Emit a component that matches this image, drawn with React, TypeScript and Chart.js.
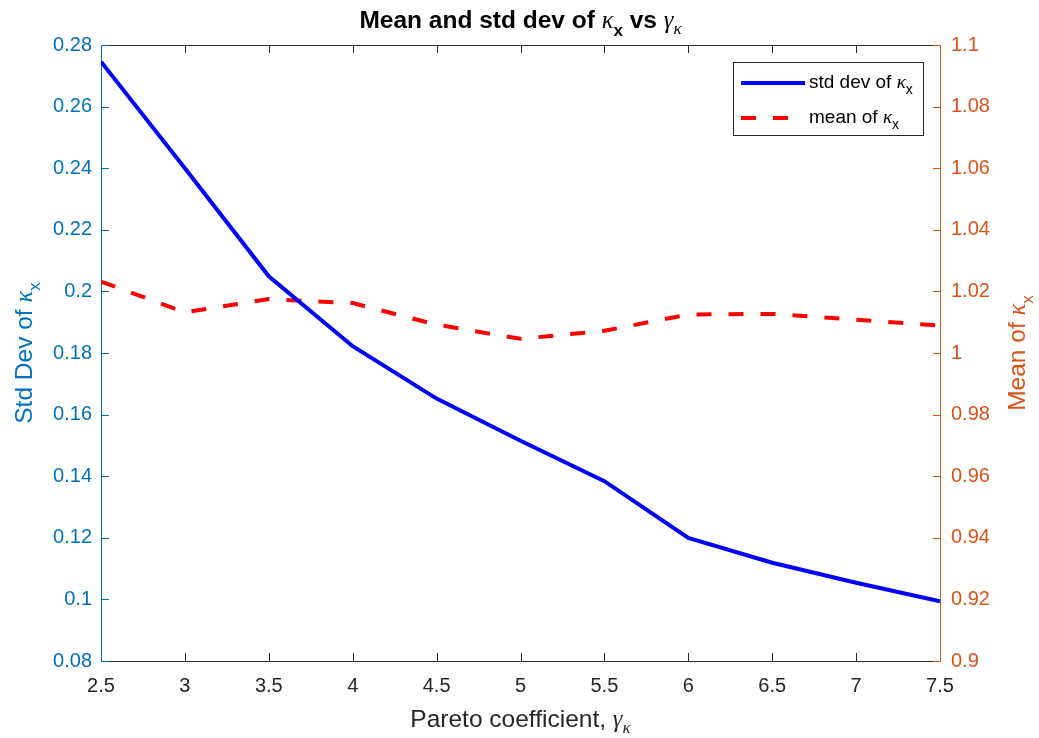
import React, { useEffect, useRef } from "react";
import { Chart, registerables } from "chart.js";

Chart.register(...registerables);

const gammaValues = [2.5, 3, 3.5, 4, 4.5, 5, 5.5, 6, 6.5, 7, 7.5];
const stdDevValues = [0.2746, 0.24, 0.2049, 0.1822, 0.1652, 0.1515, 0.1384, 0.12, 0.1119, 0.1054, 0.0994];
const meanValues = [1.0232, 1.0132, 1.0175, 1.0162, 1.0092, 1.0046, 1.0072, 1.0125, 1.0127, 1.0108, 1.0089];

const xTickValues = [2.5, 3, 3.5, 4, 4.5, 5, 5.5, 6, 6.5, 7, 7.5];
const xTickLabels = ["2.5", "3", "3.5", "4", "4.5", "5", "5.5", "6", "6.5", "7", "7.5"];
const leftTickValues = [0.08, 0.1, 0.12, 0.14, 0.16, 0.18, 0.2, 0.22, 0.24, 0.26, 0.28];
const leftTickLabels = ["0.08", "0.1", "0.12", "0.14", "0.16", "0.18", "0.2", "0.22", "0.24", "0.26", "0.28"];
const rightTickValues = [0.9, 0.92, 0.94, 0.96, 0.98, 1, 1.02, 1.04, 1.06, 1.08, 1.1];
const rightTickLabels = ["0.9", "0.92", "0.94", "0.96", "0.98", "1", "1.02", "1.04", "1.06", "1.08", "1.1"];

const LEFT_COLOR = "#0072BD";
const RIGHT_COLOR = "#D95319";
const AXIS_GRAY = "#262626";
const FONT = '"Liberation Sans", Arial, sans-serif';
const GREEK = '"Liberation Serif", serif';

type Seg = { text: string; font: string; color: string; dy?: number };

function drawRich(ctx: CanvasRenderingContext2D, segs: Seg[], x: number, y: number, rotation: number) {
  ctx.save();
  ctx.translate(x, y);
  ctx.rotate(rotation);
  ctx.textAlign = "left";
  ctx.textBaseline = "alphabetic";
  let total = 0;
  const widths: number[] = [];
  for (const s of segs) {
    ctx.font = s.font;
    const w = ctx.measureText(s.text).width;
    widths.push(w);
    total += w;
  }
  let cx = -total / 2;
  segs.forEach((s, i) => {
    ctx.font = s.font;
    ctx.fillStyle = s.color;
    ctx.fillText(s.text, cx, s.dy || 0);
    cx += widths[i];
  });
  ctx.restore();
}

function drawRichLeft(ctx: CanvasRenderingContext2D, segs: Seg[], x: number, y: number) {
  ctx.save();
  ctx.textAlign = "left";
  ctx.textBaseline = "alphabetic";
  let cx = x;
  for (const s of segs) {
    ctx.font = s.font;
    ctx.fillStyle = s.color;
    ctx.fillText(s.text, cx, y + (s.dy || 0));
    cx += ctx.measureText(s.text).width;
  }
  ctx.restore();
}

const framePlugin = {
  id: "matlabFrame",
  beforeDatasetsDraw(chart: any) {
    const ctx = chart.ctx as CanvasRenderingContext2D;
    const { left, right, top, bottom } = chart.chartArea;
    const xs = chart.scales.x;
    const yl = chart.scales.y;
    const yr = chart.scales.y1;
    const tl = 8;
    ctx.save();
    ctx.lineWidth = 1;
    ctx.strokeStyle = AXIS_GRAY;
    ctx.beginPath();
    ctx.moveTo(left, top + 0.5);
    ctx.lineTo(right, top + 0.5);
    ctx.moveTo(left, bottom + 0.5);
    ctx.lineTo(right, bottom + 0.5);
    for (const v of xTickValues) {
      const px = Math.round(xs.getPixelForValue(v)) + 0.5;
      ctx.moveTo(px, top);
      ctx.lineTo(px, top + tl);
      ctx.moveTo(px, bottom);
      ctx.lineTo(px, bottom - tl);
    }
    ctx.stroke();
    ctx.strokeStyle = LEFT_COLOR;
    ctx.beginPath();
    ctx.moveTo(left + 0.5, top);
    ctx.lineTo(left + 0.5, bottom + 1);
    for (const v of leftTickValues) {
      const py = Math.round(yl.getPixelForValue(v)) + 0.5;
      ctx.moveTo(left, py);
      ctx.lineTo(left + tl, py);
    }
    ctx.stroke();
    ctx.strokeStyle = RIGHT_COLOR;
    ctx.beginPath();
    ctx.moveTo(right + 0.5, top);
    ctx.lineTo(right + 0.5, bottom + 1);
    for (const v of rightTickValues) {
      const py = Math.round(yr.getPixelForValue(v)) + 0.5;
      ctx.moveTo(right + 1, py);
      ctx.lineTo(right - tl + 1, py);
    }
    ctx.stroke();
    ctx.restore();
  },
  afterDraw(chart: any) {
    const ctx = chart.ctx as CanvasRenderingContext2D;
    const { left, right, top, bottom } = chart.chartArea;
    const cx = (left + right) / 2;
    const cy = (top + bottom) / 2;

    drawRich(
      ctx,
      [
        { text: "Mean and std dev of ", font: `bold 24.5px ${FONT}`, color: "#000" },
        { text: "κ", font: `italic 24.5px ${GREEK}`, color: "#000" },
        { text: "x", font: `bold 17px ${FONT}`, color: "#000", dy: 8 },
        { text: " vs ", font: `bold 24.5px ${FONT}`, color: "#000" },
        { text: "γ", font: `italic 24.5px ${GREEK}`, color: "#000" },
        { text: "κ", font: `italic 17px ${GREEK}`, color: "#000", dy: 6 },
      ],
      cx,
      28,
      0
    );

    drawRich(
      ctx,
      [
        { text: "Pareto coefficient, ", font: `24.5px ${FONT}`, color: AXIS_GRAY },
        { text: "γ", font: `italic 24.5px ${GREEK}`, color: AXIS_GRAY },
        { text: "κ", font: `italic 17px ${GREEK}`, color: AXIS_GRAY, dy: 6 },
      ],
      cx,
      727,
      0
    );

    drawRich(
      ctx,
      [
        { text: "Std Dev of ", font: `24.5px ${FONT}`, color: LEFT_COLOR },
        { text: "κ", font: `italic 24.5px ${GREEK}`, color: LEFT_COLOR },
        { text: "x", font: `17px ${FONT}`, color: LEFT_COLOR, dy: 8 },
      ],
      32,
      cy,
      -Math.PI / 2
    );

    drawRich(
      ctx,
      [
        { text: "Mean of ", font: `24.5px ${FONT}`, color: RIGHT_COLOR },
        { text: "κ", font: `italic 24.5px ${GREEK}`, color: RIGHT_COLOR },
        { text: "x", font: `17px ${FONT}`, color: RIGHT_COLOR, dy: 8 },
      ],
      1025,
      cy,
      -Math.PI / 2
    );

    ctx.save();
    ctx.fillStyle = "#fff";
    ctx.fillRect(734, 63, 190, 73);
    ctx.strokeStyle = AXIS_GRAY;
    ctx.lineWidth = 1;
    ctx.strokeRect(733.5, 62.5, 190, 73);
    ctx.lineWidth = 4;
    ctx.strokeStyle = "#0000FF";
    ctx.beginPath();
    ctx.moveTo(741, 83);
    ctx.lineTo(805, 83);
    ctx.stroke();
    ctx.strokeStyle = "#FF0000";
    ctx.setLineDash([15, 17]);
    ctx.beginPath();
    ctx.moveTo(741, 118);
    ctx.lineTo(805, 118);
    ctx.stroke();
    ctx.setLineDash([]);
    ctx.restore();
    drawRichLeft(
      ctx,
      [
        { text: "std dev of ", font: `19px ${FONT}`, color: "#000" },
        { text: "κ", font: `italic 19px ${GREEK}`, color: "#000" },
        { text: "x", font: `14px ${FONT}`, color: "#000", dy: 6 },
      ],
      809,
      88
    );
    drawRichLeft(
      ctx,
      [
        { text: "mean of ", font: `19px ${FONT}`, color: "#000" },
        { text: "κ", font: `italic 19px ${GREEK}`, color: "#000" },
        { text: "x", font: `14px ${FONT}`, color: "#000", dy: 6 },
      ],
      809,
      123
    );
  },
};

export default function App() {
  const canvasRef = useRef<HTMLCanvasElement | null>(null);

  useEffect(() => {
    document.body.style.margin = "0";
    const canvas = canvasRef.current;
    if (!canvas) return;
    const chart = new Chart(canvas, {
      type: "line",
      data: {
        datasets: [
          {
            label: "std dev of κx",
            data: gammaValues.map((g, i) => ({ x: g, y: stdDevValues[i] })),
            yAxisID: "y",
            borderColor: "#0000FF",
            backgroundColor: "#0000FF",
            borderWidth: 4,
            pointRadius: 0,
            tension: 0,
          },
          {
            label: "mean of κx",
            data: gammaValues.map((g, i) => ({ x: g, y: meanValues[i] })),
            yAxisID: "y1",
            borderColor: "#FF0000",
            backgroundColor: "#FF0000",
            borderWidth: 4,
            borderDash: [15, 17],
            pointRadius: 0,
            tension: 0,
          },
        ],
      },
      options: {
        animation: false,
        responsive: false,
        devicePixelRatio: 1,
        layout: { padding: { top: 45, left: 0, right: 0, bottom: 0 } },
        plugins: {
          legend: { display: false },
          title: { display: false },
          tooltip: { enabled: false },
        },
        scales: {
          x: {
            type: "linear",
            min: 2.5,
            max: 7.5,
            grid: { display: false, drawTicks: false },
            border: { display: false },
            afterBuildTicks: (s: any) => {
              s.ticks = xTickValues.map((v) => ({ value: v }));
            },
            afterFit: (s: any) => {
              s.height = 77;
            },
            ticks: {
              color: AXIS_GRAY,
              font: { family: FONT, size: 20 },
              padding: 13,
              maxRotation: 0,
              autoSkip: false,
              callback: (_v: any, i: number) => xTickLabels[i],
            },
          },
          y: {
            type: "linear",
            position: "left",
            min: 0.08,
            max: 0.28,
            grid: { display: false, drawTicks: false },
            border: { display: false },
            afterBuildTicks: (s: any) => {
              s.ticks = leftTickValues.map((v) => ({ value: v }));
            },
            afterFit: (s: any) => {
              s.width = 101;
            },
            ticks: {
              color: LEFT_COLOR,
              font: { family: FONT, size: 20 },
              padding: 9,
              autoSkip: false,
              callback: (_v: any, i: number) => leftTickLabels[i],
            },
          },
          y1: {
            type: "linear",
            position: "right",
            min: 0.9,
            max: 1.1,
            grid: { display: false, drawTicks: false },
            border: { display: false },
            afterBuildTicks: (s: any) => {
              s.ticks = rightTickValues.map((v) => ({ value: v }));
            },
            afterFit: (s: any) => {
              s.width = 99;
            },
            ticks: {
              color: RIGHT_COLOR,
              font: { family: FONT, size: 20 },
              padding: 11,
              autoSkip: false,
              callback: (_v: any, i: number) => rightTickLabels[i],
            },
          },
        },
      },
      plugins: [framePlugin],
    });
    return () => chart.destroy();
  }, []);

  return (
    <div style={{ position: "absolute", left: 0, top: 0, width: 1039, height: 738, background: "#fff" }}>
      <canvas ref={canvasRef} width={1039} height={738} />
    </div>
  );
}
